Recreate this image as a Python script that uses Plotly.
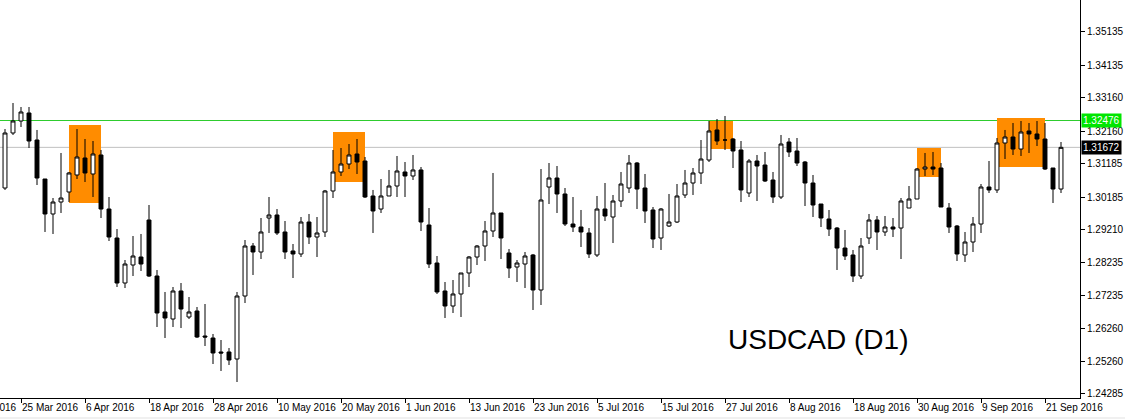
import plotly.graph_objects as go
import pandas as pd

# ---------------- data ----------------
dates = pd.bdate_range("2016-03-23", periods=133)

open_ = [1.30454, 1.32102, 1.32461, 1.32701, 1.31892, 1.30724, 1.29676, 1.30035, 1.30335, 1.30844,
         1.31353, 1.30874, 1.31443, 1.29825, 1.28957, 1.27609, 1.28148, 1.28388, 1.29496, 1.27819,
         1.26741, 1.26531, 1.27370, 1.26591, 1.26771, 1.26022, 1.25962, 1.25543, 1.25543, 1.25333,
         1.27220, 1.28717, 1.28538, 1.29556, 1.29646, 1.29137, 1.28568, 1.28478, 1.29436, 1.28987,
         1.29137, 1.30365, 1.30934, 1.31173, 1.31473, 1.31263, 1.30215, 1.29825, 1.30215, 1.30514,
         1.30934, 1.30814, 1.30994, 1.29346, 1.28208, 1.27370, 1.26920, 1.27280, 1.27909, 1.28388,
         1.28717, 1.29167, 1.29706, 1.28508, 1.28088, 1.28178, 1.28448, 1.27400, 1.30484, 1.30754,
         1.30275, 1.29376, 1.29286, 1.29107, 1.28448, 1.29825, 1.29586, 1.30065, 1.30454, 1.31203,
         1.30454, 1.29796, 1.28957, 1.29316, 1.29436, 1.30245, 1.30604, 1.30904, 1.31293, 1.32192,
         1.31892, 1.31922, 1.31593, 1.30305, 1.31263, 1.31143, 1.30694, 1.30185, 1.31832, 1.31563,
         1.31233, 1.30604, 1.29975, 1.29526, 1.29256, 1.28657, 1.28448, 1.27819, 1.28957, 1.29496,
         1.29137, 1.29286, 1.29256, 1.29855, 1.30125, 1.31023, 1.31083, 1.31053, 1.29855, 1.29316,
         1.28448, 1.28837, 1.29376, 1.30484, 1.30395, 1.31802, 1.31982, 1.31622, 1.32162, 1.32072,
         1.31922, 1.31053, 1.30424]

high = [1.32221, 1.33000, 1.32880, 1.32880, 1.32192, 1.30724, 1.30155, 1.31503, 1.30934, 1.32221,
        1.31922, 1.31862, 1.31593, 1.30185, 1.29226, 1.28298, 1.29017, 1.29077, 1.29945, 1.27999,
        1.27340, 1.27489, 1.27609, 1.27190, 1.26890, 1.26980, 1.26082, 1.25902, 1.25662, 1.27340,
        1.28897, 1.28807, 1.29556, 1.30185, 1.29825, 1.29466, 1.28777, 1.29586, 1.29676, 1.29586,
        1.30395, 1.31593, 1.31652, 1.31772, 1.31922, 1.31383, 1.30395, 1.30724, 1.30994, 1.31413,
        1.31233, 1.31443, 1.31083, 1.29855, 1.28418, 1.27639, 1.27699, 1.27909, 1.28418, 1.28747,
        1.29466, 1.30904, 1.29706, 1.28627, 1.28298, 1.28538, 1.28478, 1.31023, 1.31203, 1.31113,
        1.30454, 1.30185, 1.29796, 1.29256, 1.30215, 1.30604, 1.30245, 1.30934, 1.31443, 1.31233,
        1.30874, 1.29885, 1.29855, 1.30275, 1.30574, 1.30994, 1.31053, 1.31892, 1.32461, 1.32521,
        1.32611, 1.31952, 1.31862, 1.31323, 1.31443, 1.31533, 1.30934, 1.32042, 1.31952, 1.31952,
        1.31263, 1.30844, 1.29975, 1.29796, 1.29286, 1.29197, 1.28598, 1.28957, 1.29676, 1.29616,
        1.29616, 1.29556, 1.30155, 1.30514, 1.31053, 1.31503, 1.31533, 1.31203, 1.30005, 1.29346,
        1.29137, 1.29586, 1.30574, 1.31263, 1.31952, 1.32192, 1.32401, 1.32461, 1.32401, 1.32461,
        1.32401, 1.31053, 1.31832]

low = [1.30395, 1.32042, 1.32281, 1.31652, 1.30544, 1.29137, 1.29077, 1.29706, 1.30035, 1.30724,
       1.30634, 1.30185, 1.29556, 1.28867, 1.27489, 1.27459, 1.27819, 1.27969, 1.27789, 1.26291,
       1.25962, 1.26291, 1.26261, 1.26531, 1.25962, 1.25722, 1.25183, 1.24974, 1.25153, 1.24644,
       1.27010, 1.27849, 1.28328, 1.29107, 1.29047, 1.28328, 1.27759, 1.28388, 1.28777, 1.28388,
       1.28987, 1.30155, 1.30814, 1.31023, 1.30874, 1.30155, 1.29107, 1.29706, 1.30215, 1.30185,
       1.30185, 1.30694, 1.29167, 1.28058, 1.27280, 1.26561, 1.26711, 1.26591, 1.27489, 1.28148,
       1.28268, 1.28987, 1.28328, 1.27759, 1.27639, 1.27459, 1.26801, 1.26950, 1.29975, 1.29706,
       1.29316, 1.29137, 1.28687, 1.28358, 1.28388, 1.29466, 1.28807, 1.29885, 1.30305, 1.29825,
       1.29406, 1.28657, 1.28598, 1.29286, 1.29406, 1.30155, 1.30245, 1.30574, 1.31233, 1.31742,
       1.31593, 1.31053, 1.30035, 1.30185, 1.30065, 1.30634, 1.30005, 1.30125, 1.31383, 1.31113,
       1.29915, 1.29586, 1.29286, 1.29017, 1.27999, 1.28298, 1.27639, 1.27729, 1.28777, 1.28598,
       1.29017, 1.28987, 1.28328, 1.29855, 1.30125, 1.30814, 1.30844, 1.29885, 1.29107, 1.28268,
       1.28238, 1.28538, 1.29107, 1.30305, 1.30305, 1.31323, 1.31443, 1.31413, 1.31503, 1.31712,
       1.30994, 1.30005, 1.30305]

close = [1.32102, 1.32461, 1.32731, 1.31862, 1.30754, 1.29676, 1.30035, 1.30155, 1.30904, 1.31383,
         1.30904, 1.31473, 1.29825, 1.28987, 1.27609, 1.28178, 1.28418, 1.28178, 1.27819, 1.26711,
         1.26561, 1.27370, 1.26830, 1.26741, 1.25992, 1.25992, 1.25513, 1.25513, 1.25303, 1.27220,
         1.28717, 1.28538, 1.29137, 1.29646, 1.29107, 1.28538, 1.28478, 1.29436, 1.28987, 1.29107,
         1.30365, 1.30934, 1.31173, 1.31443, 1.31233, 1.30185, 1.29766, 1.30215, 1.30514, 1.30964,
         1.30814, 1.30994, 1.29436, 1.28178, 1.27340, 1.26920, 1.27280, 1.27909, 1.28388, 1.28717,
         1.29167, 1.29706, 1.28957, 1.28058, 1.28208, 1.28418, 1.27400, 1.30095, 1.30754, 1.30275,
         1.29376, 1.29286, 1.29137, 1.28478, 1.29825, 1.29616, 1.30065, 1.30574, 1.31203, 1.30424,
         1.29766, 1.28927, 1.29825, 1.29436, 1.30215, 1.30604, 1.30904, 1.31323, 1.32162, 1.31862,
         1.31892, 1.31563, 1.30395, 1.31263, 1.31113, 1.30664, 1.30185, 1.31772, 1.31533, 1.31203,
         1.30604, 1.29945, 1.29556, 1.29226, 1.28657, 1.28418, 1.27819, 1.28717, 1.29496, 1.29137,
         1.29286, 1.29226, 1.30065, 1.30125, 1.31023, 1.31083, 1.31023, 1.29885, 1.29286, 1.28478,
         1.28837, 1.29376, 1.30484, 1.30395, 1.31802, 1.31982, 1.31622, 1.32132, 1.32072, 1.31922,
         1.31023, 1.30424, 1.31672]

# price axis labels (MT4 style, irregular steps)
price_ticks = [1.24285, 1.25260, 1.26260, 1.27235, 1.28235, 1.29210, 1.30185,
               1.31185, 1.32160, 1.33160, 1.34135, 1.35135, 1.36110]

# horizontal levels
resistance_level = 1.32476
last_price = 1.31672

# highlighted zones: (first bar date, last bar date, top price, bottom price)
zone_start = ["2016-04-04", "2016-05-19", "2016-07-25", "2016-08-30", "2016-09-13"]
zone_end = ["2016-04-08", "2016-05-25", "2016-07-28", "2016-09-02", "2016-09-21"]
zone_top = [1.32341, 1.32132, 1.32461, 1.31652, 1.32551]
zone_bottom = [1.30005, 1.30634, 1.31622, 1.30784, 1.31083]

# ---------------- figure ----------------
n = len(dates)
xi = list(range(n))
date_index = {d.strftime("%Y-%m-%d"): i for i, d in enumerate(dates)}

fig = go.Figure()
fig.add_trace(go.Candlestick(
    x=xi, open=open_, high=high, low=low, close=close,
    increasing=dict(fillcolor="white", line=dict(color="black", width=1)),
    decreasing=dict(fillcolor="black", line=dict(color="black", width=1)),
    whiskerwidth=0, showlegend=False, hoverinfo="skip",
))

x_range = [-0.625, 134.375]
y_range = [1.24165, 1.36085]

W, H = 1125, 419
M_R, M_B = 45, 21
plot_w, plot_h = W - M_R, H - M_B

shapes = []
# light grey status strip at the very bottom of the window
shapes.append(dict(type="rect", xref="paper", yref="paper",
                   x0=0, x1=W / plot_w, y0=-(H - 2 - plot_h) / plot_h, y1=-(M_B + 1) / plot_h,
                   fillcolor="#f0f0f0", line=dict(width=0), layer="below"))
# level lines
shapes.append(dict(type="line", xref="paper", x0=0, x1=1, yref="y",
                   y0=last_price, y1=last_price, line=dict(color="#c0c0c0", width=1), layer="below"))
shapes.append(dict(type="line", xref="paper", x0=0, x1=1, yref="y",
                   y0=resistance_level, y1=resistance_level, line=dict(color="#2ecc2e", width=1), layer="below"))
# orange zones
for s, e, t, b in zip(zone_start, zone_end, zone_top, zone_bottom):
    shapes.append(dict(type="rect", xref="x", yref="y",
                       x0=date_index[s], x1=date_index[e], y0=b, y1=t,
                       fillcolor="#ff8c00", line=dict(width=0), layer="below"))

# date labels every 8 bars
tick_idx = list(range(2, n, 8))
tick_txt = [f"{dates[i].day} {dates[i].strftime('%b %Y')}" for i in tick_idx]

font_axis = dict(family="Liberation Sans, Arial, sans-serif", size=10, color="black")

annotations = [
    dict(text="USDCAD (D1)", xref="paper", yref="paper", x=0.672, y=0.146,
         xanchor="left", yanchor="middle", showarrow=False,
         font=dict(family="Liberation Sans, Arial, sans-serif", size=28, color="black")),
    dict(text=f"{resistance_level:.5f}", xref="paper", yref="y", x=1, y=resistance_level,
         xanchor="left", yanchor="middle", showarrow=False, bgcolor="#00e600",
         font=dict(family="Liberation Sans, Arial, sans-serif", size=10, color="white"),
         borderpad=1, xshift=1),
    dict(text=f"{last_price:.5f}", xref="paper", yref="y", x=1, y=last_price,
         xanchor="left", yanchor="middle", showarrow=False, bgcolor="black",
         font=dict(family="Liberation Sans, Arial, sans-serif", size=10, color="white"),
         borderpad=1, xshift=1),
]
# partially visible label of the bar before the window (6 bars before the first bar)
prev_idx = -6
prev_date = dates[0] - pd.tseries.offsets.BDay(6)
annotations.append(dict(text=f"{prev_date.day} {prev_date.strftime('%b %Y')}", xref="paper", yref="paper",
                        x=(prev_idx - x_range[0]) / (x_range[1] - x_range[0]), y=0,
                        xanchor="left", yanchor="top", showarrow=False, xshift=1, yshift=-2,
                        font=font_axis))

fig.update_layout(
    width=W, height=H,
    margin=dict(l=0, r=M_R, t=0, b=M_B, autoexpand=False),
    paper_bgcolor="white", plot_bgcolor="white",
    shapes=shapes, annotations=annotations,
    showlegend=False,
    xaxis=dict(range=x_range, rangeslider=dict(visible=False), showgrid=False, zeroline=False,
               tickmode="array", tickvals=tick_idx, ticktext=tick_txt, tickangle=0,
               ticks="outside", ticklen=4, tickcolor="black", ticklabelposition="outside right",
               showline=True, linecolor="black", linewidth=1, tickfont=font_axis,
               automargin=False),
    yaxis=dict(range=y_range, side="right", showgrid=False, zeroline=False,
               tickmode="array", tickvals=price_ticks, ticktext=[f"{v:.5f}" for v in price_ticks],
               ticks="outside", ticklen=4, tickcolor="black",
               showline=True, linecolor="black", linewidth=1, tickfont=font_axis,
               automargin=False),
)

fig.write_html("out.html", config={"displayModeBar": False},
               post_script="document.body.style.margin='0';document.body.style.overflow='hidden';")
